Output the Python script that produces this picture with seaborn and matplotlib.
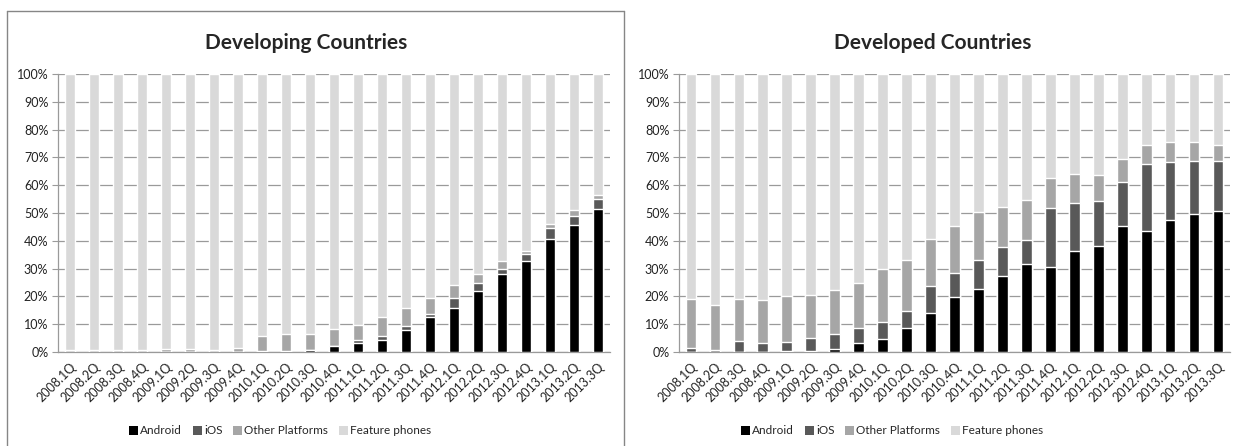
import numpy as np
import pandas as pd
import seaborn as sns
import matplotlib.pyplot as plt
from matplotlib.patches import Patch
from matplotlib.lines import Line2D

sns.set_style("white")
plt.rcParams['font.family'] = ['Lato', 'DejaVu Sans']

# quarters on the x axis
quarters = ["2008.1Q", "2008.2Q", "2008.3Q", "2008.4Q",
            "2009.1Q", "2009.2Q", "2009.3Q", "2009.4Q",
            "2010.1Q", "2010.2Q", "2010.3Q", "2010.4Q",
            "2011.1Q", "2011.2Q", "2011.3Q", "2011.4Q",
            "2012.1Q", "2012.2Q", "2012.3Q", "2012.4Q",
            "2013.1Q", "2013.2Q", "2013.3Q"]

# shares in percent, developing countries
android_dev = [0, 0, 0, 0, 0, 0, 0, 0, 0, 0, 0.6, 2.0, 3.2, 4.4, 8.0, 12.6,
               15.9, 21.9, 28.0, 32.6, 40.8, 45.7, 51.5]
ios_dev = [0, 0, 0, 0, 0, 0, 0, 0, 0.5, 0.5, 0.1, 0.3, 1.0, 1.5, 1.2, 0.9,
           3.5, 2.8, 1.9, 2.7, 3.8, 3.4, 3.5]
other_dev = [0.7, 0.7, 0.7, 0.7, 1.0, 1.0, 0.7, 1.6, 5.4, 6.0, 5.9, 6.0, 5.6, 6.6,
             6.7, 5.9, 4.8, 3.3, 2.7, 1.2, 1.3, 1.8, 1.5]

# shares in percent, developed countries
android_ed = [0, 0, 0, 0, 0.3, 0.3, 1.2, 3.3, 4.7, 8.5, 14.0, 19.7, 22.5, 27.3,
              31.8, 30.7, 36.2, 38.0, 45.2, 43.5, 47.4, 49.8, 50.8]
ios_ed = [1.6, 0.6, 4.0, 3.3, 3.3, 4.7, 5.1, 5.5, 6.2, 6.1, 9.6, 8.6, 10.6, 10.6,
          8.6, 21.1, 17.4, 16.3, 15.9, 24.2, 21.0, 19.0, 18.0]
other_ed = [17.3, 16.2, 15.1, 15.5, 16.5, 15.5, 16.1, 16.2, 19.0, 18.4, 16.9, 16.9,
            17.3, 14.3, 14.1, 10.8, 10.3, 9.2, 8.4, 6.6, 7.0, 6.6, 5.7]

series = ["Android", "iOS", "Other Platforms", "Feature phones"]
colors = ["#000000", "#595959", "#a6a6a6", "#d9d9d9"]
grid_col = "#9a9a9a"


def stacked(ax, android, ios, other):
    df = pd.DataFrame({"quarter": quarters, "Android": android,
                       "iOS": ios, "Other Platforms": other})
    df["Feature phones"] = 100 - df["Android"] - df["iOS"] - df["Other Platforms"]
    cum = df[series].cumsum(axis=1)
    # draw from the top segment down so each one covers the rest
    for name, col in zip(series[::-1], colors[::-1]):
        sns.barplot(x=df["quarter"], y=cum[name], color=col, width=0.45,
                    saturation=1, ax=ax, zorder=3)
    ax.set_xlim(-0.5, len(quarters) - 0.5)
    ax.set_ylim(0, 100)
    ax.set_yticks(np.arange(0, 101, 10))
    ax.set_yticklabels([f"{v}%" for v in range(0, 101, 10)], fontsize=9, color="#222222")
    ax.set_xticks(range(len(quarters)))
    ax.set_xticklabels(quarters, rotation=45, ha="right", rotation_mode="anchor",
                       fontsize=9, color="#222222")
    ax.set_xticks(np.arange(-0.5, len(quarters), 1), minor=True)
    ax.tick_params(axis="x", which="major", length=0, pad=6)
    ax.tick_params(axis="x", which="minor", length=4, color=grid_col, direction="out")
    ax.tick_params(axis="y", length=4, color=grid_col, direction="out", left=True, pad=3)
    ax.yaxis.grid(True, color=grid_col, linewidth=0.9, zorder=0)
    ax.set_axisbelow(True)
    for s in ["top", "right"]:
        ax.spines[s].set_visible(False)
    for s in ["left", "bottom"]:
        ax.spines[s].set_color(grid_col)
        ax.spines[s].set_linewidth(0.9)
    ax.set_xlabel("")
    ax.set_ylabel("")


fig = plt.figure(figsize=(12.44, 4.46), dpi=100)
ax1 = fig.add_axes([58 / 1244, 94 / 446, 552 / 1244, 278 / 446])
ax2 = fig.add_axes([679 / 1244, 94 / 446, 551 / 1244, 278 / 446])

stacked(ax1, android_dev, ios_dev, other_dev)
stacked(ax2, android_ed, ios_ed, other_ed)

fig.text(306 / 1244, 1 - 43 / 446, "Developing Countries", ha="center", va="center",
         fontsize=15, fontweight="bold")
fig.text(933 / 1244, 1 - 43 / 446, "Developed Countries", ha="center", va="center",
         fontsize=15, fontweight="bold")

handles = [Patch(facecolor=c, edgecolor="none", label=s) for s, c in zip(series, colors)]
for cx in [280 / 1244, 892 / 1244]:
    fig.legend(handles=handles, loc="center", bbox_to_anchor=(cx, 1 - 431 / 446),
               ncol=4, frameon=False, fontsize=8.5, handlelength=0.75, handleheight=0.75,
               handletextpad=0.2, columnspacing=0.9)

# chart area border of the left panel
bc = "#868686"
fig.add_artist(Line2D([7 / 1244, 7 / 1244], [0, 1 - 11 / 446], color=bc, lw=1))
fig.add_artist(Line2D([7 / 1244, 624 / 1244], [1 - 11 / 446, 1 - 11 / 446], color=bc, lw=1))
fig.add_artist(Line2D([624 / 1244, 624 / 1244], [0, 1 - 11 / 446], color=bc, lw=1))

plt.savefig("out.png", dpi=100)
